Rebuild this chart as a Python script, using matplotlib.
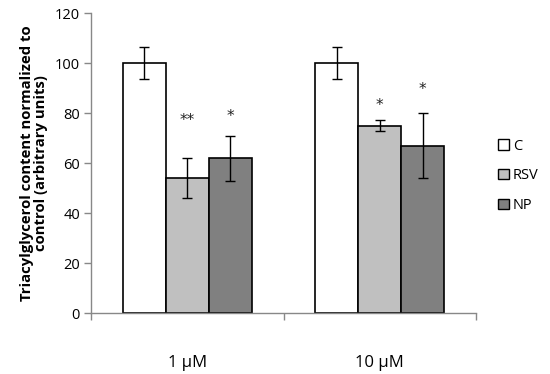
import matplotlib
matplotlib.use("Agg")
import matplotlib.pyplot as plt
import numpy as np
from matplotlib.patches import Patch

plt.rcParams['font.family'] = ['Open Sans', 'DejaVu Sans']

categories = ["1 \u03bcM", "10 \u03bcM"]
series = ["C", "RSV", "NP"]
values = {"C": [100, 100], "RSV": [54, 75], "NP": [62, 67]}
errors = {"C": [6.4, 6.4], "RSV": [8, 2.3], "NP": [9, 13]}
stars = {"C": ["", ""], "RSV": ["**", "*"], "NP": ["*", "*"]}
star_y = {"C": [0, 0], "RSV": [77, 83], "NP": [78.5, 89.5]}
colors = {"C": "#ffffff", "RSV": "#c0c0c0", "NP": "#808080"}
yticks = [0, 20, 40, 60, 80, 100, 120]

fig = plt.figure(figsize=(5.5, 3.74), dpi=100)
ax = fig.add_axes([0.1655, 0.163, 0.7, 0.802])

x = np.arange(len(categories))
w = 0.223
for i, s in enumerate(series):
    xs = x + (i - 1) * w
    ax.bar(xs, values[s], w, color=colors[s], edgecolor='black', linewidth=1.2, zorder=2)
    ax.errorbar(xs, values[s], yerr=errors[s], fmt='none', ecolor='black',
                elinewidth=1, capsize=3.3, capthick=1, zorder=3)
    for xi, sy, st in zip(xs, star_y[s], stars[s]):
        if st:
            ax.text(xi, sy, st, ha='center', va='center', fontsize=11,
                    color='#222222', family='DejaVu Sans')

ax.set_xlim(-0.5, 1.5)
ax.set_ylim(0, 120)
ax.set_yticks(yticks)
ax.set_yticklabels([str(t) for t in yticks], fontsize=10.5)
ax.set_xticks(x)
ax.set_xticklabels(categories, fontsize=12)
ax.set_xticks([-0.5, 0.5, 1.5], minor=True)
ax.tick_params(axis='x', which='major', length=0, pad=30)
ax.tick_params(axis='x', which='minor', length=5, color='#888888', width=1)
ax.tick_params(axis='y', length=5, color='#888888', width=1, pad=3)

for sp in ['top', 'right']:
    ax.spines[sp].set_visible(False)
for sp in ['left', 'bottom']:
    ax.spines[sp].set_color('#888888')
    ax.spines[sp].set_linewidth(1)

ax.set_ylabel("Triacylglycerol content normalized to\ncontrol (arbitrary units)",
              fontsize=10.7, fontweight='bold', labelpad=5, linespacing=1.0)

handles = [Patch(facecolor=colors[s], edgecolor='black', linewidth=1) for s in series]
fig.legend(handles, series, loc='center left', bbox_to_anchor=(0.893, 0.53),
           frameon=False, fontsize=10.5, handlelength=0.7, handleheight=0.7,
           handletextpad=0.3, labelspacing=1.0, borderpad=0)

fig.savefig("out.png", dpi=100)
